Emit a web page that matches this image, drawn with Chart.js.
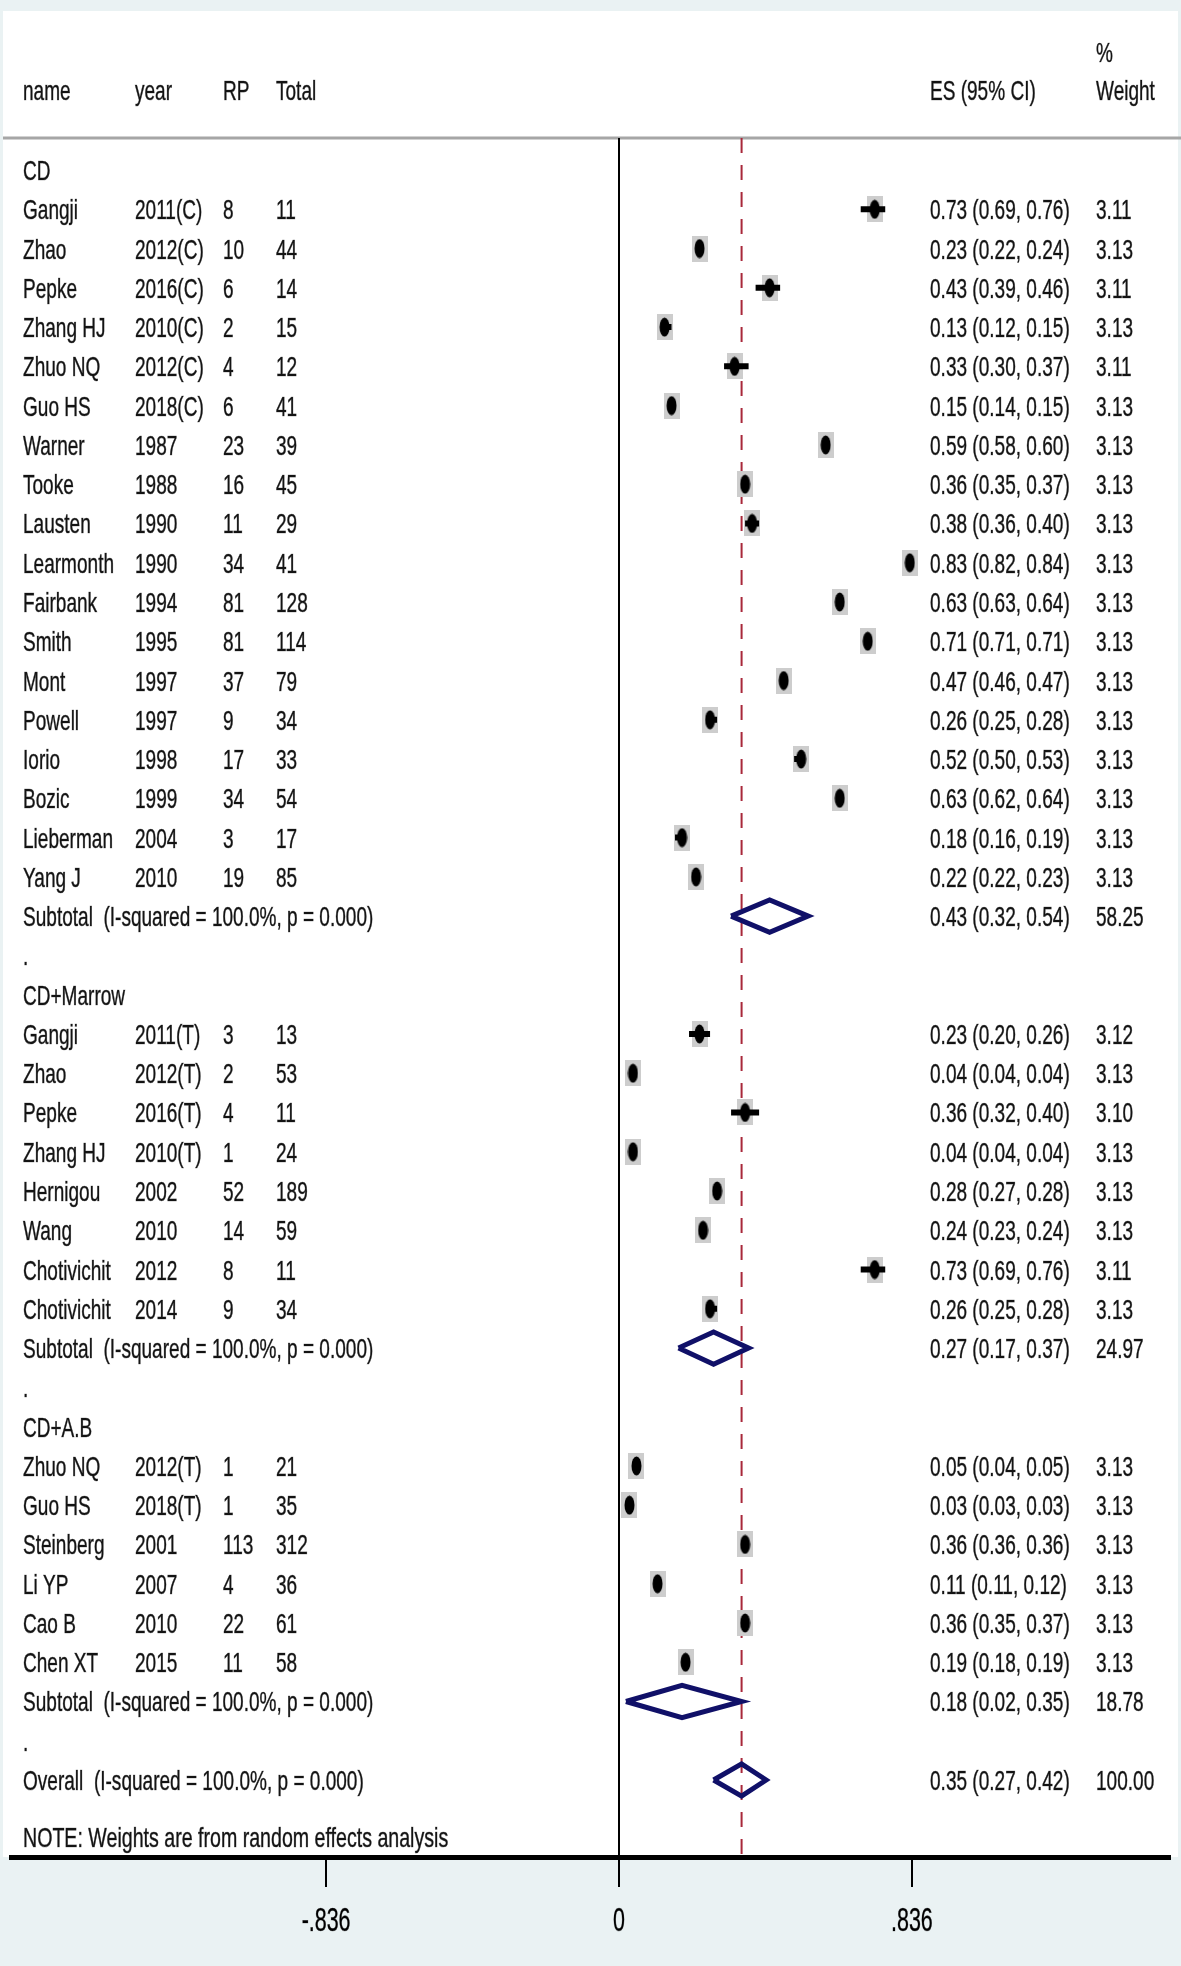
<!DOCTYPE html>
<html><head><meta charset="utf-8">
<script src="https://cdn.jsdelivr.net/npm/chart.js@4.4.1/dist/chart.umd.min.js"></script>
<style>html,body{margin:0;padding:0;background:#eaf2f3;}canvas{display:block;}</style>
</head><body>
<canvas id="c" width="1181" height="1966"></canvas>
<script>
// ---------------- DATA ----------------
const headerLabels = ["name", "year", "RP", "Total"];
const groupLabels = ["CD", "CD+Marrow", "CD+A.B"];
const studyGroup = [0,0,0,0,0,0,0,0,0,0,0,0,0,0,0,0,0,0, 1,1,1,1,1,1,1,1, 2,2,2,2,2,2];
const studyNames = ["Gangji","Zhao","Pepke","Zhang HJ","Zhuo NQ","Guo HS","Warner","Tooke","Lausten","Learmonth","Fairbank","Smith","Mont","Powell","Iorio","Bozic","Lieberman","Yang J",
  "Gangji","Zhao","Pepke","Zhang HJ","Hernigou","Wang","Chotivichit","Chotivichit",
  "Zhuo NQ","Guo HS","Steinberg","Li YP","Cao B","Chen XT"];
const studyYears = ["2011(C)","2012(C)","2016(C)","2010(C)","2012(C)","2018(C)","1987","1988","1990","1990","1994","1995","1997","1997","1998","1999","2004","2010",
  "2011(T)","2012(T)","2016(T)","2010(T)","2002","2010","2012","2014",
  "2012(T)","2018(T)","2001","2007","2010","2015"];
const studyRP = [8,10,6,2,4,6,23,16,11,34,81,81,37,9,17,34,3,19, 3,2,4,1,52,14,8,9, 1,1,113,4,22,11];
const studyTotal = [11,44,14,15,12,41,39,45,29,41,128,114,79,34,33,54,17,85, 13,53,11,24,189,59,11,34, 21,35,312,36,61,58];
const studyES = [0.73,0.23,0.43,0.13,0.33,0.15,0.59,0.36,0.38,0.83,0.63,0.71,0.47,0.26,0.52,0.63,0.18,0.22,
  0.23,0.04,0.36,0.04,0.28,0.24,0.73,0.26,
  0.05,0.03,0.36,0.11,0.36,0.19];
const studyLo = [0.69,0.22,0.39,0.12,0.30,0.14,0.58,0.35,0.36,0.82,0.63,0.71,0.46,0.25,0.50,0.62,0.16,0.22,
  0.20,0.04,0.32,0.04,0.27,0.23,0.69,0.25,
  0.04,0.03,0.36,0.11,0.35,0.18];
const studyHi = [0.76,0.24,0.46,0.15,0.37,0.15,0.60,0.37,0.40,0.84,0.64,0.71,0.47,0.28,0.53,0.64,0.19,0.23,
  0.26,0.04,0.40,0.04,0.28,0.24,0.76,0.28,
  0.05,0.03,0.36,0.12,0.37,0.19];
const studyWeight = [3.11,3.13,3.11,3.13,3.11,3.13,3.13,3.13,3.13,3.13,3.13,3.13,3.13,3.13,3.13,3.13,3.13,3.13,
  3.12,3.13,3.10,3.13,3.13,3.13,3.11,3.13,
  3.13,3.13,3.13,3.13,3.13,3.13];
const subtotalES = [0.43, 0.27, 0.18];
const subtotalLo = [0.32, 0.17, 0.02];
const subtotalHi = [0.54, 0.37, 0.35];
const subtotalWeight = [58.25, 24.97, 18.78];
const overallES = [0.35];
const overallLo = [0.27];
const overallHi = [0.42];
const overallWeight = [100.00];
const heterogeneityText = "(I-squared = 100.0%, p = 0.000)";
const noteText = "NOTE: Weights are from random effects analysis";
const xTickValues = [-0.836, 0, 0.836];
const xTickLabels = ["-.836", "0", ".836"];

// ---------------- ROW LAYOUT ----------------
const rows = [];
let r = 0;
const studyRow = [], subtotalRow = [];
groupLabels.forEach((g, gi) => {
  rows.push({kind: 'group', row: r++, text: g});
  studyGroup.forEach((sg, i) => { if (sg === gi) { studyRow[i] = r; rows.push({kind: 'study', row: r++, i}); } });
  subtotalRow[gi] = r; rows.push({kind: 'subtotal', row: r++, gi});
  rows.push({kind: 'dot', row: r++});
});
const overallRow = r; rows.push({kind: 'overall', row: r++});
const noteRow = r + 0.45;

const fmt = v => v.toFixed(2);
const ciText = (e, l, h) => fmt(e) + ' (' + fmt(l) + ', ' + fmt(h) + ')';

// ---------------- MARKERS ----------------
function mkBox() {
  const c = document.createElement('canvas'); c.width = 16; c.height = 26;
  const x = c.getContext('2d'); x.fillStyle = '#cdcdcd'; x.fillRect(0, 0, 16, 26); return c;
}
function mkDot() {
  const c = document.createElement('canvas'); c.width = 11; c.height = 20;
  const x = c.getContext('2d'); x.fillStyle = '#000';
  x.beginPath(); x.ellipse(5.5, 10, 5, 9.5, 0, 0, Math.PI * 2); x.fill(); return c;
}
const HALF_DIAMOND = 0.41;
const ciData = [], diamondData = [];
studyES.forEach((e, i) => { ciData.push({x: studyLo[i], y: studyRow[i]}, {x: studyHi[i], y: studyRow[i]}, {x: null, y: null}); });
function pushDiamond(e, l, h, rr) {
  diamondData.push({x: l, y: rr}, {x: e, y: rr - HALF_DIAMOND}, {x: h, y: rr}, {x: e, y: rr + HALF_DIAMOND}, {x: l, y: rr}, {x: null, y: null});
}
subtotalES.forEach((e, gi) => pushDiamond(e, subtotalLo[gi], subtotalHi[gi], subtotalRow[gi]));
pushDiamond(overallES[0], overallLo[0], overallHi[0], overallRow);

const Y_MIN = -0.815, Y_MAX = 42.96;
const FONT = '"Liberation Sans", Arial, sans-serif';
const SX = 0.68;

function txt(ctx, s, x, y, size, sx, align) {
  ctx.save();
  ctx.font = size + 'px ' + FONT;
  ctx.textBaseline = 'alphabetic';
  ctx.textAlign = align || 'left';
  ctx.translate(x, y); ctx.scale(sx, 1);
  ctx.fillText(s, 0, 0);
  ctx.lineWidth = 0.7; ctx.strokeText(s, 0, 0);
  ctx.restore();
}

const bgPlugin = {
  id: 'bg',
  beforeDraw(chart) {
    const ctx = chart.ctx, a = chart.chartArea;
    ctx.save();
    ctx.fillStyle = '#eaf2f3'; ctx.fillRect(0, 0, chart.width, chart.height);
    ctx.fillStyle = '#ffffff'; ctx.fillRect(3, 11, chart.width - 6, a.bottom - 11);
    ctx.strokeStyle = '#a6a6a6'; ctx.lineWidth = 3;
    ctx.beginPath(); ctx.moveTo(3, a.top); ctx.lineTo(chart.width, a.top); ctx.stroke();
    ctx.restore();
  }
};

const textPlugin = {
  id: 'texts',
  afterDraw(chart) {
    const ctx = chart.ctx, ys = chart.scales.y, xs = chart.scales.x;
    ctx.save();
    ctx.fillStyle = '#141414'; ctx.strokeStyle = 'rgba(20,20,20,0.55)';
    const colX = [23, 135, 223, 276], esX = 930, wX = 1096, sz = 28;
    const base = rr => ys.getPixelForValue(rr) + 10;
    headerLabels.forEach((h, k) => txt(ctx, h, colX[k], 100, sz, SX));
    txt(ctx, 'ES (95% CI)', esX, 100, sz, SX);
    txt(ctx, '%', wX, 62, sz, SX);
    txt(ctx, 'Weight', wX, 100, sz, SX);
    rows.forEach(o => {
      const b = base(o.row);
      if (o.kind === 'group') txt(ctx, o.text, colX[0], b, sz, SX);
      else if (o.kind === 'dot') txt(ctx, '.', colX[0], b, sz, SX);
      else if (o.kind === 'study') {
        const i = o.i;
        txt(ctx, studyNames[i], colX[0], b, sz, SX);
        txt(ctx, studyYears[i], colX[1], b, sz, SX);
        txt(ctx, String(studyRP[i]), colX[2], b, sz, SX);
        txt(ctx, String(studyTotal[i]), colX[3], b, sz, SX);
        txt(ctx, ciText(studyES[i], studyLo[i], studyHi[i]), esX, b, sz, SX);
        txt(ctx, fmt(studyWeight[i]), wX, b, sz, SX);
      } else if (o.kind === 'subtotal') {
        const g = o.gi;
        txt(ctx, 'Subtotal  ' + heterogeneityText, colX[0], b, sz, SX);
        txt(ctx, ciText(subtotalES[g], subtotalLo[g], subtotalHi[g]), esX, b, sz, SX);
        txt(ctx, fmt(subtotalWeight[g]), wX, b, sz, SX);
      } else if (o.kind === 'overall') {
        txt(ctx, 'Overall  ' + heterogeneityText, colX[0], b, sz, SX);
        txt(ctx, ciText(overallES[0], overallLo[0], overallHi[0]), esX, b, sz, SX);
        txt(ctx, fmt(overallWeight[0]), wX, b, sz, SX);
      }
    });
    txt(ctx, noteText, colX[0], base(noteRow), sz, 0.70);
    ctx.fillStyle = '#000'; ctx.strokeStyle = 'rgba(0,0,0,0.5)';
    xTickValues.forEach((v, k) => txt(ctx, xTickLabels[k], xs.getPixelForValue(v), 1931, 33, 0.65, 'center'));
    ctx.restore();
  }
};

new Chart(document.getElementById('c'), {
  type: 'line',
  data: {
    datasets: [
      { type: 'line', data: [{x: overallES[0], y: Y_MIN}, {x: overallES[0], y: Y_MAX}], borderColor: '#a8283a', borderWidth: 2, borderDash: [15, 12], pointRadius: 0, order: 10 },
      { type: 'scatter', data: studyES.map((e, i) => ({x: e, y: studyRow[i]})), pointStyle: mkBox(), pointRadius: 10, order: 8 },
      { type: 'line', data: ciData, borderColor: '#000', borderWidth: 6, borderCapStyle: 'butt', pointRadius: 0, spanGaps: false, order: 6 },
      { type: 'line', data: diamondData, borderColor: '#101068', borderWidth: 5, borderJoinStyle: 'miter', pointRadius: 0, spanGaps: false, fill: false, order: 4 },
      { type: 'scatter', data: studyES.map((e, i) => ({x: e, y: studyRow[i]})), pointStyle: mkDot(), pointRadius: 10, order: 2 }
    ]
  },
  options: {
    responsive: false, animation: false, devicePixelRatio: 1, events: [],
    layout: { padding: { top: 138, bottom: 79, left: 0, right: 0 } },
    plugins: { legend: { display: false }, tooltip: { enabled: false } },
    scales: {
      x: {
        type: 'linear', position: 'bottom', min: -1.7353, max: 1.5728,
        afterBuildTicks: s => { s.ticks = xTickValues.map(v => ({value: v})); },
        afterFit: s => { s.height = 30; },
        ticks: { display: false },
        grid: { display: true, drawOnChartArea: true, drawTicks: true, tickLength: 30,
                color: c => (c.tick && c.tick.value === 0) ? '#000' : 'rgba(0,0,0,0)',
                lineWidth: 2, tickColor: '#000', tickWidth: 2 },
        border: { display: true, color: '#000', width: 5 }
      },
      y: { type: 'linear', reverse: true, min: Y_MIN, max: Y_MAX, display: false }
    }
  },
  plugins: [bgPlugin, textPlugin]
});
</script>
</body></html>
